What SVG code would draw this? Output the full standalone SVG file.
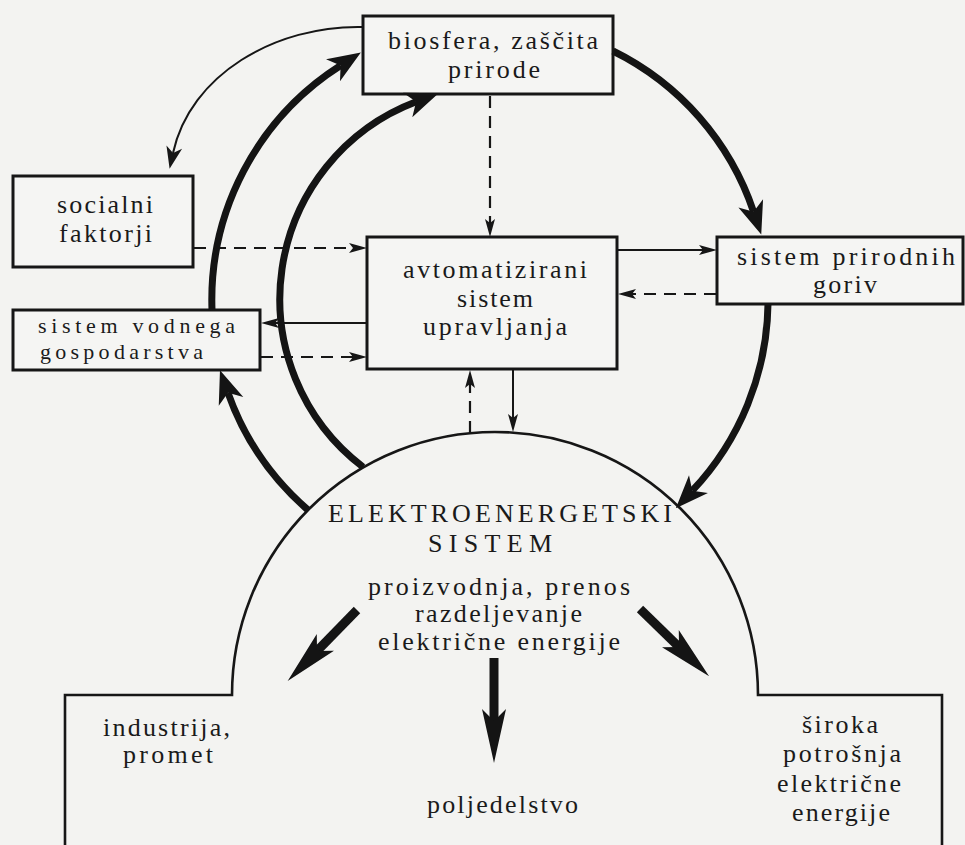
<svg xmlns="http://www.w3.org/2000/svg" width="965" height="845" viewBox="0 0 965 845">
<style>
.bg{fill:#f3f3f1}
.box{fill:#f5f5f3;stroke:#161616;stroke-width:3}
.thin{fill:none;stroke:#161616;stroke-width:2}
.dash{fill:none;stroke:#161616;stroke-width:2.2;stroke-dasharray:12 8}
.thick{fill:none;stroke:#141414;stroke-width:7}
.big{fill:none;stroke:#141414;stroke-width:9}
.frame{fill:none;stroke:#161616;stroke-width:2.6}
</style>
<defs>
<marker id="hs" markerUnits="userSpaceOnUse" markerWidth="20" markerHeight="12" viewBox="0 -6 20 12" refX="4" refY="0" orient="auto" overflow="visible">
<path d="M0,-5 L18,0 L0,5 L4,0 Z" fill="#161616"/>
</marker>
<marker id="hm" markerUnits="userSpaceOnUse" markerWidth="24" markerHeight="20" viewBox="0 -10 24 20" refX="6" refY="0" orient="auto" overflow="visible">
<path d="M0,-8 L22,0 L0,8 L6,0 Z" fill="#161616"/>
</marker>
<marker id="ht" markerUnits="userSpaceOnUse" markerWidth="36" markerHeight="30" viewBox="0 -15 36 30" refX="9" refY="0" orient="auto" overflow="visible">
<path d="M0,-13 L33,0 L0,13 L9,0 Z" fill="#141414"/>
</marker>
<marker id="hb" markerUnits="userSpaceOnUse" markerWidth="56" markerHeight="28" viewBox="0 -14 56 28" refX="12" refY="0" orient="auto" overflow="visible">
<path d="M0,-12 L54,0 L0,12 L12,0 Z" fill="#141414"/>
</marker>
</defs>
<rect class="bg" x="0" y="0" width="965" height="845"/>

<g id="energy-system" fill="#1a1a1a">
<path class="frame" d="M65,850 V695 H232 A263,263 0 0 1 758,695 H942 V850"/>
<text font-family="Liberation Serif" font-size="26" x="328" y="522" textLength="344" lengthAdjust="spacing">ELEKTROENERGETSKI</text>
<text font-family="Liberation Serif" font-size="26" x="428" y="552" textLength="124" lengthAdjust="spacing">SISTEM</text>
<text font-family="Liberation Serif" font-size="26" x="368" y="595" textLength="262" lengthAdjust="spacing">proizvodnja, prenos</text>
<text font-family="Liberation Serif" font-size="26" x="415" y="622" textLength="167" lengthAdjust="spacing">razdeljevanje</text>
<text font-family="Liberation Serif" font-size="26" x="378" y="650" textLength="242" lengthAdjust="spacing">električne energije</text>
</g>

<g id="industrija" fill="#1a1a1a">
<text font-family="Liberation Serif" font-size="26" x="103" y="736" textLength="127" lengthAdjust="spacing">industrija,</text>
<text font-family="Liberation Serif" font-size="26" x="123" y="763" textLength="90" lengthAdjust="spacing">promet</text>
</g>
<g id="poljedelstvo" fill="#1a1a1a">
<text font-family="Liberation Serif" font-size="26" x="427" y="813" textLength="151" lengthAdjust="spacing">poljedelstvo</text>
</g>
<g id="siroka-potrosnja" fill="#1a1a1a">
<text font-family="Liberation Serif" font-size="26" x="802" y="733" textLength="76" lengthAdjust="spacing">široka</text>
<text font-family="Liberation Serif" font-size="26" x="783" y="762" textLength="118" lengthAdjust="spacing">potrošnja</text>
<text font-family="Liberation Serif" font-size="26" x="777" y="792" textLength="124" lengthAdjust="spacing">električne</text>
<text font-family="Liberation Serif" font-size="26" x="792" y="821" textLength="98" lengthAdjust="spacing">energije</text>
</g>

<g id="biosfera" fill="#1a1a1a">
<rect class="box" x="363" y="16" width="250" height="78"/>
<text font-family="Liberation Serif" font-size="26" x="388" y="49" textLength="210" lengthAdjust="spacing">biosfera, zaščita</text>
<text font-family="Liberation Serif" font-size="26" x="448" y="78" textLength="92" lengthAdjust="spacing">prirode</text>
</g>
<g id="socialni" fill="#1a1a1a">
<rect class="box" x="13" y="176" width="180" height="91"/>
<text font-family="Liberation Serif" font-size="26" x="57" y="213" textLength="96" lengthAdjust="spacing">socialni</text>
<text font-family="Liberation Serif" font-size="26" x="59" y="242" textLength="93" lengthAdjust="spacing">faktorji</text>
</g>
<g id="vodnega" fill="#1a1a1a">
<rect class="box" x="13" y="310" width="247" height="60"/>
<text font-family="Liberation Serif" font-size="22" x="38" y="333" textLength="197" lengthAdjust="spacing">sistem vodnega</text>
<text font-family="Liberation Serif" font-size="22" x="40" y="359" textLength="163" lengthAdjust="spacing">gospodarstva</text>
</g>
<g id="avtomatizirani" fill="#1a1a1a">
<rect class="box" x="367" y="237" width="250" height="132"/>
<text font-family="Liberation Serif" font-size="26" x="403" y="278" textLength="184" lengthAdjust="spacing">avtomatizirani</text>
<text font-family="Liberation Serif" font-size="26" x="457" y="307" textLength="76" lengthAdjust="spacing">sistem</text>
<text font-family="Liberation Serif" font-size="26" x="423" y="335" textLength="144" lengthAdjust="spacing">upravljanja</text>
</g>
<g id="prirodnih" fill="#1a1a1a">
<rect class="box" x="717" y="237" width="246" height="67"/>
<text font-family="Liberation Serif" font-size="26" x="737" y="265" textLength="218" lengthAdjust="spacing">sistem prirodnih</text>
<text font-family="Liberation Serif" font-size="26" x="813" y="293" textLength="64" lengthAdjust="spacing">goriv</text>
</g>

<g id="connectors">
<path class="thin" d="M363,27 C275,25 190,75 173,153" marker-end="url(#hm)"/>
<path class="dash" d="M490,96 V223" marker-end="url(#hs)"/>
<path class="dash" d="M194,248 H353" marker-end="url(#hs)"/>
<path class="thin" d="M367,323 H275" marker-end="url(#hs)"/>
<path class="dash" d="M261,357 H353" marker-end="url(#hs)"/>
<path class="thin" d="M618,250 H703" marker-end="url(#hs)"/>
<path class="dash" d="M716,294 H632" marker-end="url(#hs)"/>
<path class="thin" d="M513,370 V418" marker-end="url(#hs)"/>
<path class="dash" d="M470,433 V384" marker-end="url(#hs)"/>
<path class="thick" d="M308,510 A278,278 0 0 1 228,392.8" marker-end="url(#ht)"/>
<path class="thick" d="M212,310 A278,278 0 0 1 340.6,65.5" marker-end="url(#ht)"/>
<path class="thick" d="M613,51 A278,278 0 0 1 753.6,211.8" marker-end="url(#ht)"/>
<path class="thick" d="M768,304 A278,278 0 0 1 692.3,490.7" marker-end="url(#ht)"/>
<path class="thick" d="M363,467 A211,211 0 0 1 416.1,101.8" marker-end="url(#ht)"/>
<path class="big" d="M357,610 L317,651" marker-end="url(#hb)"/>
<path class="big" d="M494,658 V721" marker-end="url(#hb)"/>
<path class="big" d="M640,609 L679,647" marker-end="url(#hb)"/>
</g>
</svg>
